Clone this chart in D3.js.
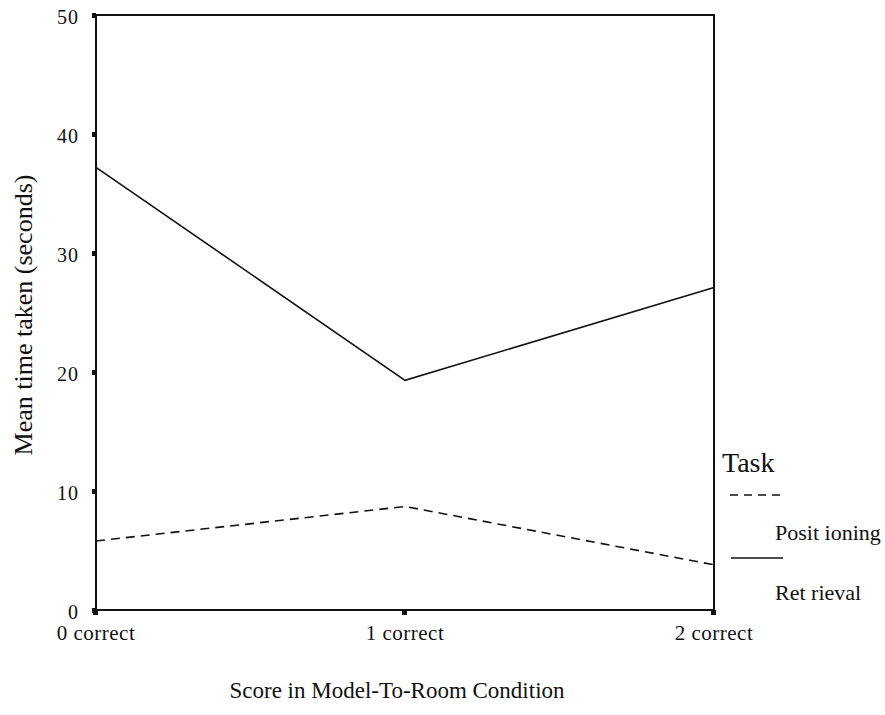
<!DOCTYPE html>
<html lang="en">
<head>
	<meta charset="UTF-8">
	<title>Mean time taken</title>
	<style>
		body { margin: 0; background: #fff; }
		text { font-family: "Liberation Serif", "DejaVu Serif", serif; fill: #111; }
	</style>
</head>
<body>
	<svg width="885" height="715"></svg>
	<script src="https://cdn.jsdelivr.net/npm/d3@7"></script>
	<script type="text/javascript">
		// data
		var categories = ["0 correct", "1 correct", "2 correct"];
		var positioning = [5.8, 8.7, 3.8];
		var retrieval = [37.2, 19.3, 27.1];
		var yTicks = [0, 10, 20, 30, 40, 50];

		var svg = d3.select("svg");
		// plot area edges (note: "top" is a reserved window property, so use other names)
		var plotLeft = 96, plotRight = 714, plotTop = 15, plotBottom = 610;

		var x = d3.scalePoint().domain(categories).range([plotLeft, plotRight]);
		var y = d3.scaleLinear().domain([0, 50]).range([plotBottom, plotTop]);

		// frame
		svg.append("rect")
			.attr("x", plotLeft).attr("y", plotTop)
			.attr("width", plotRight - plotLeft).attr("height", plotBottom - plotTop)
			.attr("fill", "none").attr("stroke", "#111").attr("stroke-width", 2);

		// y axis ticks (small square marks) and labels
		var yAxis = svg.append("g");
		yAxis.selectAll("rect").data(yTicks).enter().append("rect")
			.attr("x", plotLeft - 4).attr("y", function(d) { return y(d) - 2; })
			.attr("width", 4).attr("height", 5).attr("fill", "#111");
		yAxis.selectAll("text").data(yTicks).enter().append("text")
			.attr("x", plotLeft - 17).attr("y", function(d) { return y(d) + 9; })
			.attr("text-anchor", "end")
			.style("font-size", "20px")
			.style("letter-spacing", "1px")
			.text(function(d) { return d; });

		// x axis ticks and labels
		var xAxis = svg.append("g");
		xAxis.selectAll("rect").data(categories).enter().append("rect")
			.attr("x", function(d) { return x(d) - 3; }).attr("y", plotBottom)
			.attr("width", 5).attr("height", 5).attr("fill", "#111");
		xAxis.selectAll("text").data(categories).enter().append("text")
			.attr("x", function(d) { return x(d); }).attr("y", plotBottom + 30)
			.attr("text-anchor", "middle")
			.style("font-size", "21px")
			.style("letter-spacing", "0.5px")
			.text(function(d) { return d; });

		// axis titles
		svg.append("text")
			.attr("transform", "translate(32,315) rotate(-90)")
			.attr("text-anchor", "middle")
			.style("font-size", "26px")
			.text("Mean time taken (seconds)");
		svg.append("text")
			.attr("x", 397).attr("y", 698)
			.attr("text-anchor", "middle")
			.style("font-size", "23px")
			.text("Score in Model-To-Room Condition");

		// lines
		var line = d3.line()
			.x(function(d, i) { return x(categories[i]); })
			.y(function(d) { return y(d); });

		svg.append("path").datum(retrieval)
			.attr("d", line).attr("fill", "none")
			.attr("stroke", "#111").attr("stroke-width", 1.6);
		svg.append("path").datum(positioning)
			.attr("d", line).attr("fill", "none")
			.attr("stroke", "#111").attr("stroke-width", 1.6)
			.attr("stroke-dasharray", "9,6");

		// legend
		var legend = svg.append("g");
		legend.append("text").attr("x", 722).attr("y", 472)
			.style("font-size", "28px").text("Task");
		legend.append("line")
			.attr("x1", 730).attr("x2", 783).attr("y1", 495).attr("y2", 495)
			.attr("stroke", "#111").attr("stroke-width", 1.6)
			.attr("stroke-dasharray", "8,6");
		legend.append("text").attr("x", 775).attr("y", 540)
			.style("font-size", "22px").text("Posit ioning");
		legend.append("line")
			.attr("x1", 731).attr("x2", 783).attr("y1", 558).attr("y2", 558)
			.attr("stroke", "#111").attr("stroke-width", 1.6);
		legend.append("text").attr("x", 775).attr("y", 600)
			.style("font-size", "22px").text("Ret rieval");
	</script>
</body>
</html>
